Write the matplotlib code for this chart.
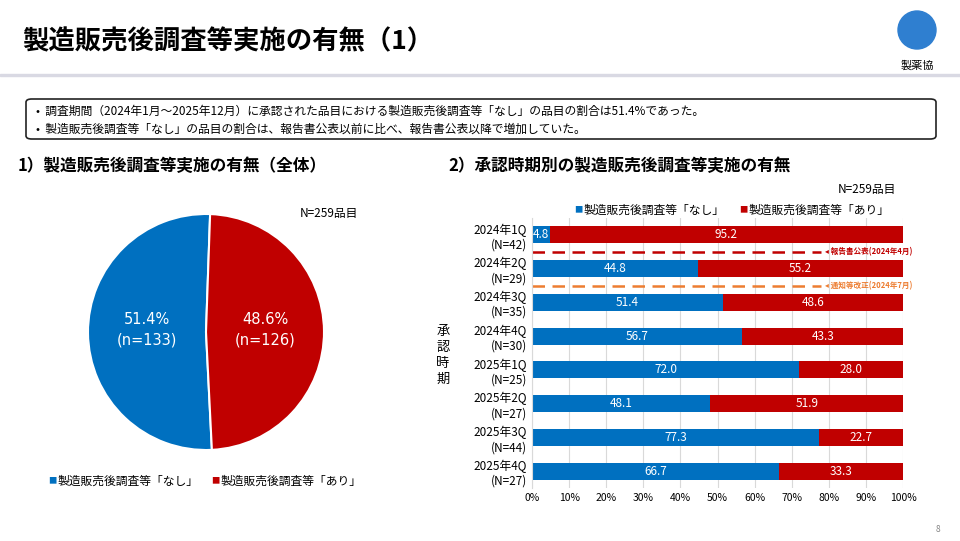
import matplotlib
matplotlib.use("Agg")
import matplotlib.pyplot as plt
from matplotlib.patches import FancyBboxPatch, Rectangle, Ellipse
import numpy as np

plt.rcParams["font.family"] = ["Noto Sans CJK JP", "DejaVu Sans"]

BLUE = "#0070c0"
RED = "#c00000"

pie_labels = ["製造販売後調査等「なし」", "製造販売後調査等「あり」"]
pie_counts = [133, 126]
pie_pcts = [51.4, 48.6]

periods = ["2024年1Q", "2024年2Q", "2024年3Q", "2024年4Q",
           "2025年1Q", "2025年2Q", "2025年3Q", "2025年4Q"]
period_n = [42, 29, 35, 30, 25, 27, 44, 27]
nashi = [4.8, 44.8, 51.4, 56.7, 72.0, 48.1, 77.3, 66.7]
ari = [95.2, 55.2, 48.6, 43.3, 28.0, 51.9, 22.7, 33.3]

W, H = 960, 541
fig = plt.figure(figsize=(9.6, 5.41), dpi=100)


def fx(px):
    return px / W


def fy(py):
    return 1 - py / H


# title and header
fig.text(fx(22), fy(42), "製造販売後調査等実施の有無（1）", fontsize=19, fontweight="bold", va="center")
fig.add_artist(Rectangle((0, fy(76)), 1, 0.004, transform=fig.transFigure, color="#d9d9e3"))
fig.add_artist(Ellipse((fx(917), fy(30)), fx(38), 38 / H, transform=fig.transFigure, color="#2f7fd0"))
fig.text(fx(917), fy(66), "製薬協", fontsize=8, ha="center", va="center")

# summary box
fig.add_artist(FancyBboxPatch((fx(26), fy(139)), fx(910), 40 / H, transform=fig.transFigure,
                              boxstyle="round,pad=0,rounding_size=0.006", fc="white", ec="#222222", lw=1.2))
fig.text(fx(36), fy(111), "•  調査期間（2024年1月～2025年12月）に承認された品目における製造販売後調査等「なし」の品目の割合は51.4%であった。",
         fontsize=8.5, va="center")
fig.text(fx(36), fy(129), "•  製造販売後調査等「なし」の品目の割合は、報告書公表以前に比べ、報告書公表以降で増加していた。",
         fontsize=8.5, va="center")

fig.text(fx(18), fy(166), "1）製造販売後調査等実施の有無（全体）", fontsize=12, fontweight="bold", va="center")
fig.text(fx(448), fy(166), "2）承認時期別の製造販売後調査等実施の有無", fontsize=12, fontweight="bold", va="center")

# pie
ax_pie = fig.add_axes([fx(88), fy(450), fx(236), 236 / H])
ax_pie.pie(pie_counts, colors=[BLUE, RED], startangle=88, counterclock=True,
           wedgeprops=dict(edgecolor="white", linewidth=1.5))
ax_pie.set_xlim(-1, 1)
ax_pie.set_ylim(-1, 1)
ax_pie.set_aspect("equal")
ax_pie.text(-0.5, 0.02, f"{pie_pcts[0]}%\n(n={pie_counts[0]})", color="white", fontsize=10.5,
            ha="center", va="center", linespacing=1.4, family=["DejaVu Sans"])
ax_pie.text(0.5, 0.02, f"{pie_pcts[1]}%\n(n={pie_counts[1]})", color="white", fontsize=10.5,
            ha="center", va="center", linespacing=1.4, family=["DejaVu Sans"])
fig.text(fx(300), fy(214), "N=259品目", fontsize=8.5, va="center")
for i, (lab, c) in enumerate(zip(pie_labels, [BLUE, RED])):
    x0 = 48 + i * 163
    fig.text(fx(x0), fy(481), "■", color=c, fontsize=6, va="center")
    fig.text(fx(x0 + 10), fy(481), lab, fontsize=8.5, va="center")

# bars
ax = fig.add_axes([fx(532), fy(488), fx(371), 270 / H])
y = np.arange(len(periods))
ax.barh(y, nashi, color=BLUE, height=0.5)
ax.barh(y, ari, left=nashi, color=RED, height=0.5)
for yi, a, b in zip(y, nashi, ari):
    ax.text(a / 2 if a > 8 else 0.3, yi, f"{a:.1f}", color="white", fontsize=8.5,
            ha="center" if a > 8 else "left", va="center")
    ax.text(a + b / 2, yi, f"{b:.1f}", color="white", fontsize=8.5, ha="center", va="center")
ax.set_xlim(0, 100)
ax.set_ylim(len(periods) - 0.5, -0.5)
ax.set_xticks(np.arange(0, 101, 10))
ax.set_xticklabels([f"{v}%" for v in range(0, 101, 10)], fontsize=7.5)
ax.set_yticks(y)
ax.set_yticklabels([f"{p}\n(N={n})" for p, n in zip(periods, period_n)], fontsize=8.5, linespacing=1.2)
ax.xaxis.grid(True, color="#d9d9d9", lw=0.8)
ax.set_axisbelow(True)
for s in ["top", "right", "bottom"]:
    ax.spines[s].set_visible(False)
ax.spines["left"].set_color("#d9d9d9")
ax.tick_params(length=0)

ax.plot([0, 78], [0.5, 0.5], color=RED, lw=1.8, ls=(0, (5, 3)), clip_on=False)
ax.text(79, 0.5, "◂ 報告書公表(2024年4月)", color=RED, fontsize=5.5, va="center", fontweight="bold")
ax.plot([0, 78], [1.5, 1.5], color="#ed7d31", lw=1.8, ls=(0, (5, 3)), clip_on=False)
ax.text(79, 1.5, "◂ 通知等改正(2024年7月)", color="#ed7d31", fontsize=5.5, va="center", fontweight="bold")

fig.text(fx(443), fy(355), "承\n認\n時\n期", fontsize=9.5, ha="center", va="center", linespacing=1.3)
fig.text(fx(838), fy(190), "N=259品目", fontsize=8.5, va="center")
for x0, lab, c in [(574, pie_labels[0], BLUE), (739, pie_labels[1], RED)]:
    fig.text(fx(x0), fy(210), "■", color=c, fontsize=6, va="center")
    fig.text(fx(x0 + 10), fy(210), lab, fontsize=8.5, va="center")

fig.text(fx(936), fy(530), "8", fontsize=6, color="#888888", va="center")
fig.savefig("out.png", dpi=100)
